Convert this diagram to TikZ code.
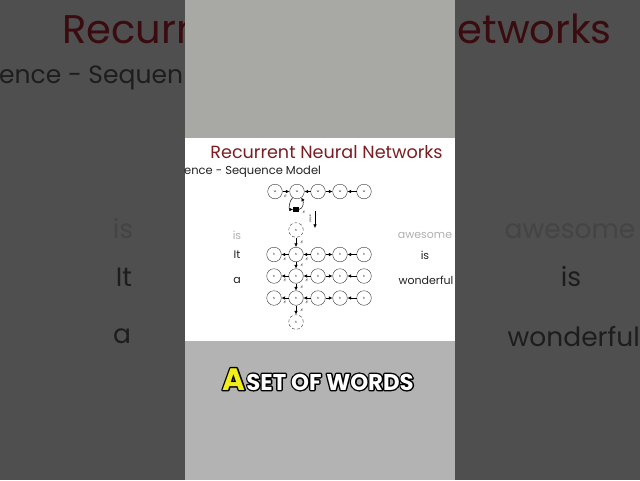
\documentclass[tikz,border=0pt]{standalone}
\usepackage{fontspec}
\setmainfont{Poppins}
\usetikzlibrary{arrows.meta}
\definecolor{bgdark}{HTML}{4F4F4F}
\definecolor{bgmaroon}{HTML}{3A0C10}
\definecolor{bgtext}{HTML}{1D1D1D}
\definecolor{bgdim}{HTML}{444444}
\definecolor{toppanel}{HTML}{A8A9A5}
\definecolor{botpanel}{HTML}{B3B3B3}
\definecolor{maroon}{HTML}{7B1E22}
\definecolor{slidetext}{HTML}{222222}
\definecolor{slidedim}{HTML}{B0B0B0}
\definecolor{capyellow}{HTML}{F2EE1A}
\newcommand{\outlinedtext}[2]{%
  \leavevmode\rlap{\special{pdf:literal direct 1 Tr 2.8 w 1 j 0 0 0 RG}#2\special{pdf:literal direct 0 Tr}}%
  \textcolor{#1}{#2}}
\begin{document}
\begin{tikzpicture}[x=1pt,y=-1pt,
  bgword/.style={inner sep=0pt, font=\fontsize{26.5}{32}\selectfont},
  sword/.style={inner sep=0pt, font=\fontsize{11}{13}\selectfont},
  cell/.style={circle, draw=black!80, line width=0.4pt, minimum size=14.6pt, inner sep=0pt, font=\fontsize{3}{3}\selectfont},
  dcell/.style={cell, densely dashed},
  arr/.style={-{Latex[length=3.6pt,width=3.4pt]}, line width=0.5pt},
  lab/.style={font=\fontsize{3.5}{4}\selectfont, inner sep=0.3pt}]
\useasboundingbox (0,0) rectangle (640,480);
\fill[bgdark] (0,0) rectangle (640,480);

% background (zoomed slide, darkened)
\node[inner sep=0pt, anchor=base west, text=bgmaroon, font=\fontsize{40}{48}\selectfont] (bgt1) at (62,43) {Recurr};
\node[inner sep=0pt, anchor=base east, text=bgmaroon, font=\fontsize{40}{48}\selectfont] (bgt2) at (612,43) {etworks};
\node[inner sep=0pt, anchor=west, text=bgtext, font=\fontsize{25}{30}\selectfont] (bgsub) at (-1,78) {ence - Sequen};
\node[bgword, text=bgdim] (bgis1) at (123,229) {is};
\node[bgword, text=bgtext] (bgit) at (124,277) {It};
\node[bgword, text=bgtext] (bga) at (122,336) {a};
\node[bgword, text=bgdim] (bgaw) at (570,231) {awesome};
\node[bgword, text=bgtext] (bgis2) at (571,277) {is};
\node[bgword, text=bgtext, anchor=east] (bgwo) at (640,336) {wonderful};

% centre panel
\fill[toppanel] (185,0) rectangle (455,138);
\fill[white] (185,138) rectangle (455,341);
\fill[botpanel] (185,341) rectangle (455,480);

% slide
\node[inner sep=0pt, text=maroon, font=\fontsize{17.6}{20}\selectfont] (title) at (326.5,152) {Recurrent Neural Networks};
\node[inner sep=0pt, anchor=west, text=slidetext, font=\fontsize{11.5}{13}\selectfont] (sub) at (184,172) {ence - Sequence Model};
\node[sword, text=slidedim] (sis1) at (237,235) {is};
\node[sword, text=slidetext] (sit) at (237,255) {It};
\node[sword, text=slidetext] (sa) at (237,280) {a};
\node[sword, text=slidedim] (saw) at (425,235) {awesome};
\node[sword, text=slidetext] (sis2) at (425,255) {is};
\node[sword, text=slidetext] (swo) at (426,280) {wonderful};

% top (folded) row
\foreach \i/\x in {1/275,2/297,3/318,4/340,5/364}
  \node[cell] (t\i) at (\x,191.5) {w};
\draw[arr] (t1) -- (t2);
\draw[arr] (t3) -- (t2);
\draw[arr] (t3) -- (t4);
\draw[arr] (t5) -- (t4);
\node[lab] (lt1) at (285.5,196.5) {$\varepsilon$};
\node[fill=black, inner sep=0pt, minimum size=5.5pt] (sq) at (296,209.5) {};
\draw[arr] (t2.235) to[out=220,in=180] (sq.west);
\draw[arr] (sq.east) to[out=10,in=300] (t2.305);
\node[lab] (lsq) at (304,212) {$\varepsilon$};

% unfold arrow
\coordinate (u1) at (315,211);
\coordinate (u2) at (315,228);
\draw[arr] (u1) -- (u2);
\node[rotate=-90, font=\fontsize{2.5}{3}\selectfont, inner sep=0pt] (ulab) at (310.5,218) {unfold};

% unfolded lattice
\node[dcell] (d1) at (296,230) {h};
\foreach \r/\y in {1/254.5,2/276,3/298}{
  \foreach \i/\x in {1/274,2/296,3/318,4/340,5/364}
    \node[cell] (r\r c\i) at (\x,\y) {h};
  \draw[arr] (r\r c2) -- (r\r c1);
  \draw[arr] (r\r c3) -- (r\r c2);
  \draw[arr] (r\r c3) -- (r\r c4);
  \draw[arr] (r\r c5) -- (r\r c4);
  \node[lab] at (285,\y+4.5) {$\varepsilon$};
  \node[lab] at (307,\y+4.5) {$\varepsilon$};
}
\node[dcell] (d2) at (296,322) {h};
\draw[arr] (d1) -- (r1c2);
\draw[arr] (r1c2) -- (r2c2);
\draw[arr] (r2c2) -- (r3c2);
\draw[arr] (r3c2) -- (d2);
\node[lab] at (302,242) {$\varepsilon$};
\node[lab] at (302,265) {$\varepsilon$};
\node[lab] at (302,287) {$\varepsilon$};
\node[lab] at (302,310) {$\varepsilon$};

% caption
\node[inner sep=0pt, anchor=base west, font=\fontsize{31}{34}\selectfont\bfseries] (capA) at (222,390) {\outlinedtext{capyellow}{A}};
\node[inner sep=0pt, anchor=base west, font=\fontsize{22.8}{26}\selectfont\bfseries] (capW) at ([xshift=1pt]capA.base east) {\outlinedtext{white}{SET OF WORDS}};
\end{tikzpicture}
\end{document}
